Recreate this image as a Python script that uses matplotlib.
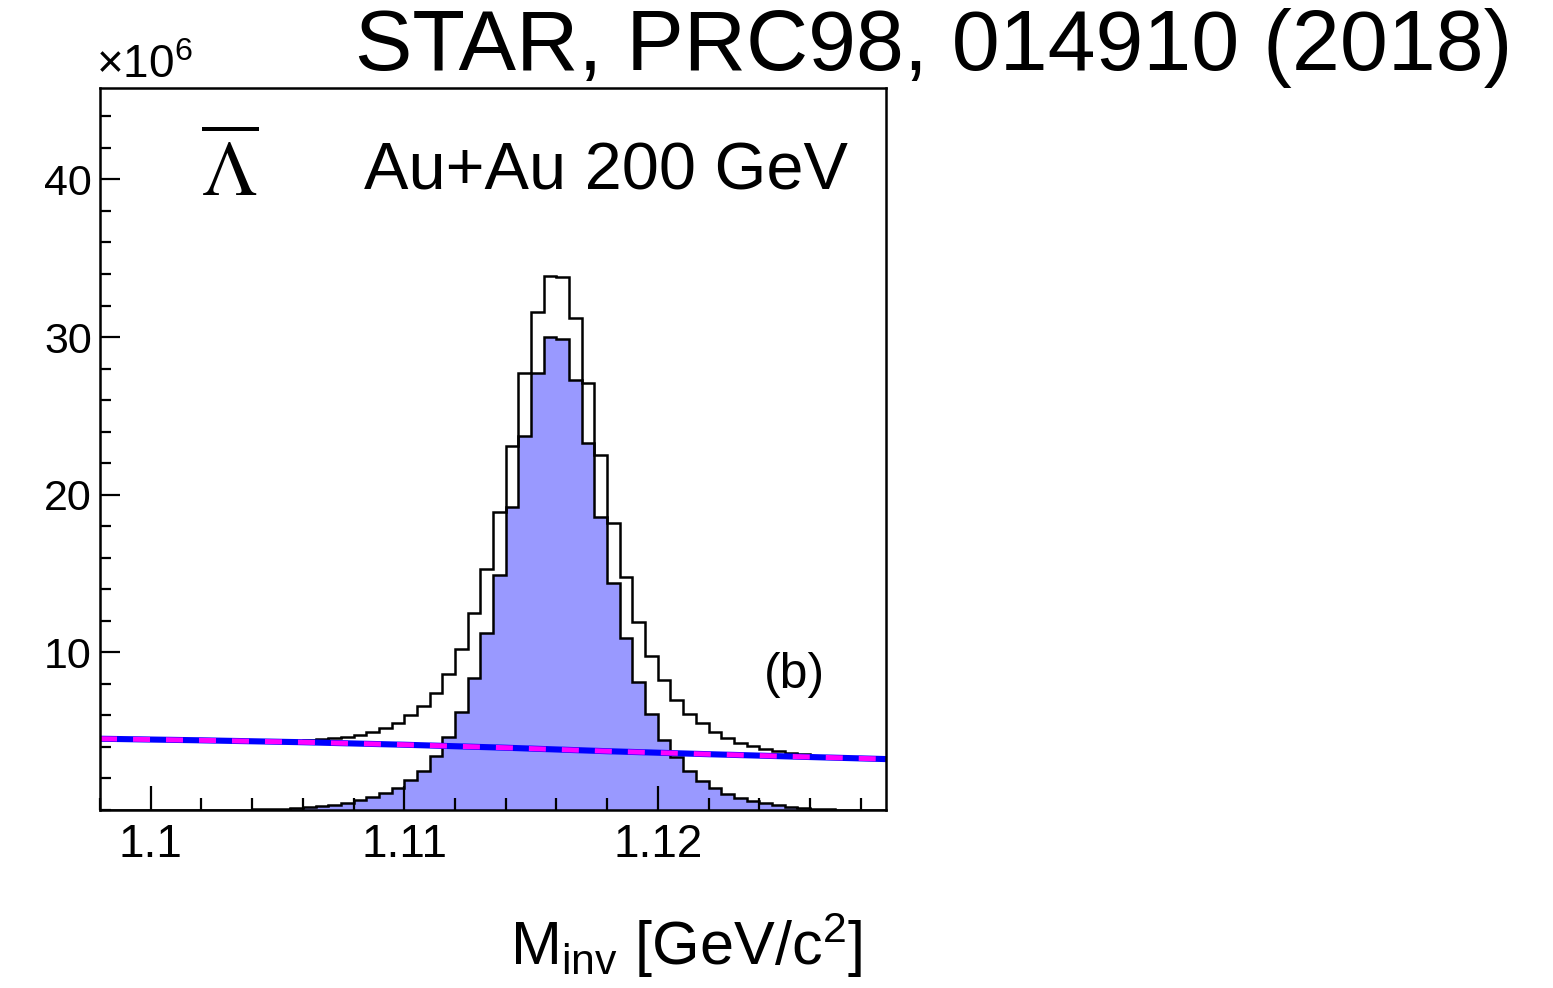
import numpy as np
import matplotlib
matplotlib.use('Agg')
import matplotlib.pyplot as plt
from matplotlib.ticker import MultipleLocator, FixedLocator

plt.rcParams['font.family'] = ['Liberation Sans', 'DejaVu Sans']
plt.rcParams['mathtext.fontset'] = 'custom'
plt.rcParams['mathtext.rm'] = 'Liberation Sans'
plt.rcParams['mathtext.it'] = 'Liberation Sans:italic'
plt.rcParams['mathtext.bf'] = 'Liberation Sans:bold'

# bin edges in GeV/c^2 (0.5 MeV bins)
m_lo = 1.098
bin_w = 0.0005
n_bins = 62
edges = m_lo + bin_w * np.arange(n_bins + 1)

# total (signal + background) counts, x10^6
total = [4.51, 4.49, 4.48, 4.46, 4.45, 4.44, 4.42, 4.41, 4.40, 4.39,
         4.39, 4.38, 4.38, 4.38, 4.39, 4.40, 4.44, 4.49, 4.56, 4.66,
         4.78, 4.94, 5.20, 5.50, 6.00, 6.60, 7.40, 8.60, 10.2, 12.5,
         15.3, 18.9, 23.1, 27.7, 31.6, 33.9, 33.8, 31.2, 27.1, 22.5,
         18.2, 14.75, 11.9, 9.77, 8.24, 6.98, 6.09, 5.50, 4.93, 4.55,
         4.28, 4.08, 3.90, 3.75, 3.62, 3.53, 3.45, 3.39, 3.34, 3.31,
         3.28, 3.26]

# background-subtracted signal, x10^6
signal = [0.0, 0.0, 0.0, 0.0, 0.0, 0.01, 0.01, 0.01, 0.01, 0.01,
          0.02, 0.03, 0.04, 0.05, 0.07, 0.10, 0.17, 0.25, 0.34, 0.46,
          0.63, 0.80, 1.06, 1.38, 1.90, 2.50, 3.42, 4.63, 6.20, 8.35,
          11.2, 14.9, 19.2, 23.7, 27.7, 30.0, 29.9, 27.3, 23.3, 18.6,
          14.4, 10.9, 8.10, 6.07, 4.44, 3.38, 2.50, 1.86, 1.38, 1.00,
          0.74, 0.59, 0.44, 0.32, 0.21, 0.14, 0.08, 0.05, 0.03, 0.02,
          0.01, 0.01]

# background fit
bg_m = [1.098, 1.102, 1.106, 1.110, 1.114, 1.118, 1.122, 1.126, 1.129]
bg_y = [4.52, 4.42, 4.30, 4.14, 3.95, 3.73, 3.54, 3.36, 3.23]

W, H = 1553, 988
fig = plt.figure(figsize=(W / 100, H / 100), dpi=100)
ax = fig.add_axes([100 / W, 1 - 810 / H, 786 / W, 722 / H])

ax.stairs(signal, edges, fill=True, color='#9999ff', linewidth=0)
ax.stairs(signal, edges, color='black', linewidth=1.8, baseline=None)
ax.stairs(total, edges, color='black', linewidth=1.8, baseline=None)
ax.plot(bg_m, bg_y, color='#0000ff', linewidth=4.4, solid_capstyle='butt')
ax.plot(bg_m, bg_y, color='#ff00ff', linewidth=3.6, dashes=(3.4, 3.2))

ax.set_xlim(1.098, 1.129)
ax.set_ylim(0, 45.8)

ax.xaxis.set_major_locator(FixedLocator([1.10, 1.11, 1.12]))
ax.set_xticklabels(['1.1', '1.11', '1.12'])
ax.xaxis.set_minor_locator(MultipleLocator(0.002))
ax.yaxis.set_major_locator(FixedLocator([10, 20, 30, 40]))
ax.yaxis.set_minor_locator(MultipleLocator(2))

ax.tick_params(which='both', direction='in', top=False, right=False,
               width=1.6, labelsize=31)
ax.tick_params(axis='x', which='major', length=17, pad=9, labelsize=33)
ax.tick_params(axis='x', which='minor', length=8.5)
ax.tick_params(axis='y', which='major', length=14.5, pad=6)
ax.tick_params(axis='y', which='minor', length=8)
for s in ax.spines.values():
    s.set_linewidth(1.8)

fig.text(1512 / W, 1 - 70 / H, 'STAR, PRC98, 014910 (2018)', ha='right',
         va='baseline', fontsize=62)
fig.text(96 / W, 1 - 78 / H, r'$\times10^{6}$', ha='left', va='baseline',
         fontsize=33)
fig.text(862 / W, 1 - 965 / H, r'M$_{\rm inv}$ [GeV/c$^{2}$]', ha='right',
         va='baseline', fontsize=44)

fig.text(848 / W, 1 - 189 / H, 'Au+Au 200 GeV', ha='right', va='baseline',
         fontsize=48)
fig.text(230 / W, 1 - 197 / H, r'$\overline{\Lambda}$', ha='center',
         va='baseline', fontsize=57, math_fontfamily='stix')
fig.text(825 / W, 1 - 688 / H, '(b)', ha='right', va='baseline', fontsize=36)

fig.savefig('out.png', dpi=100)
